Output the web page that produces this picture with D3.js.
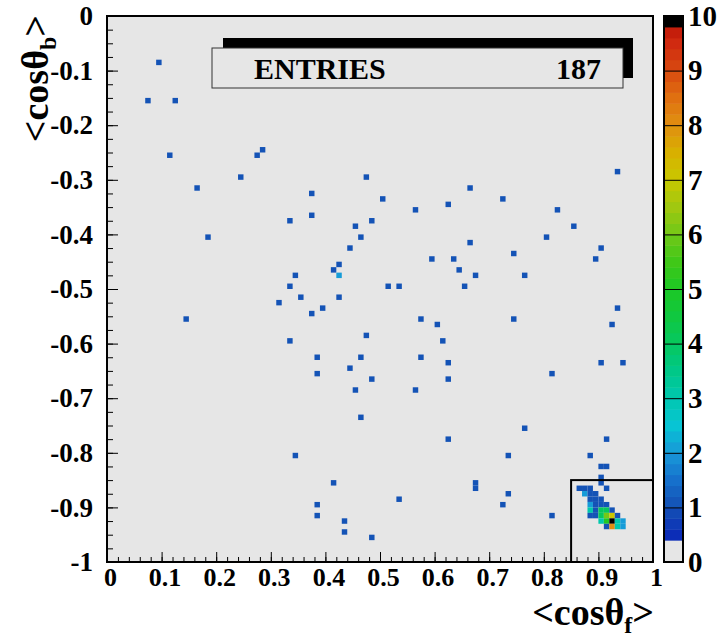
<!DOCTYPE html>
<html><head><meta charset="utf-8">
<script src="https://cdn.jsdelivr.net/npm/d3@7"></script>
<style>body{margin:0;background:#fff}</style>
</head><body>
<svg id="c" width="719" height="641"></svg>
<script>
// ---- data (bin lower edges, 0.01 x 0.01 bins) ----
const binWidth = 0.01;
const binX = [
 0.09,0.07,0.12,0.11,0.27,0.28,0.16,0.24,0.47,0.37,0.93,0.66,0.50,0.72,0.62,0.56,0.82,0.37,0.33,0.48,
 0.45,0.85,0.18,0.46,0.80,0.66,0.44,0.90,0.74,0.59,0.63,0.89,0.42,0.41,0.64,0.42,0.34,0.67,0.76,0.33,
 0.51,0.53,0.65,0.35,0.42,0.31,0.39,0.93,0.37,0.14,0.57,0.74,0.60,0.92,0.47,0.33,0.61,0.38,0.46,0.57,
 0.62,0.90,0.94,0.44,0.38,0.81,0.48,0.62,0.45,0.56,0.46,0.76,0.62,0.91,0.34,0.73,0.88,0.90,0.91,0.90,
 0.90,0.41,0.67,0.67,0.73,0.53,0.38,0.72,0.38,0.81,0.43,0.43,0.48,
 // cluster
 0.86,0.87,0.88,0.91,
 0.87,0.88,0.89,
 0.88,0.89,0.90,
 0.88,0.89,0.90,0.91,
 0.88,0.89,0.90,0.91,0.92,
 0.88,0.89,0.90,0.91,0.92,0.93,
 0.90,0.91,0.92,0.93,0.94,
 0.91,0.92,0.93,0.94
];
const binY = [
 -0.09,-0.16,-0.16,-0.26,-0.26,-0.25,-0.32,-0.30,-0.30,-0.33,-0.29,-0.32,-0.34,-0.34,-0.35,-0.36,-0.36,-0.37,-0.38,-0.38,
 -0.39,-0.39,-0.41,-0.41,-0.41,-0.42,-0.43,-0.43,-0.44,-0.45,-0.45,-0.45,-0.46,-0.47,-0.47,-0.48,-0.48,-0.48,-0.48,-0.50,
 -0.50,-0.50,-0.50,-0.52,-0.52,-0.53,-0.54,-0.54,-0.55,-0.56,-0.56,-0.56,-0.57,-0.57,-0.59,-0.60,-0.60,-0.63,-0.63,-0.63,
 -0.64,-0.64,-0.64,-0.65,-0.66,-0.66,-0.67,-0.67,-0.69,-0.69,-0.74,-0.76,-0.78,-0.78,-0.81,-0.81,-0.81,-0.83,-0.83,-0.85,
 -0.86,-0.86,-0.86,-0.87,-0.88,-0.89,-0.90,-0.90,-0.92,-0.92,-0.93,-0.95,-0.96,
 -0.87,-0.87,-0.87,-0.87,
 -0.88,-0.88,-0.88,
 -0.89,-0.89,-0.89,
 -0.90,-0.90,-0.90,-0.90,
 -0.91,-0.91,-0.91,-0.91,-0.91,
 -0.92,-0.92,-0.92,-0.92,-0.92,-0.92,
 -0.93,-0.93,-0.93,-0.93,-0.93,
 -0.94,-0.94,-0.94,-0.94
];
const binCount = [
 1,1,1,1,1,1,1,1,1,1,1,1,1,1,1,1,1,1,1,1,
 1,1,1,1,1,1,1,1,1,1,1,1,1,1,1,2,1,1,1,1,
 1,1,1,1,1,1,1,1,1,1,1,1,1,1,1,1,1,1,1,1,
 1,1,1,1,1,1,1,1,1,1,1,1,1,1,1,1,1,1,1,1,
 1,1,1,1,1,1,1,1,1,1,1,1,1,
 1,1,1,1,
 2,1,1,
 1,1,1,
 2,1,1,1,
 3,1,4,4,1,
 1,1,4,6,7,1,
 3,5,10,3,2,
 1,8,3,2
];
const xTickValues = [0,0.1,0.2,0.3,0.4,0.5,0.6,0.7,0.8,0.9,1];
const xTickLabels = ["0","0.1","0.2","0.3","0.4","0.5","0.6","0.7","0.8","0.9","1"];
const yTickValues = [0,-0.1,-0.2,-0.3,-0.4,-0.5,-0.6,-0.7,-0.8,-0.9,-1];
const yTickLabels = ["0","-0.1","-0.2","-0.3","-0.4","-0.5","-0.6","-0.7","-0.8","-0.9","-1"];
const zTickValues = [0,1,2,3,4,5,6,7,8,9,10];
const zTickLabels = ["0","1","2","3","4","5","6","7","8","9","10"];
const paletteStops  = [0.35,1.0,1.5,2.0,2.5,3.0,3.5,4.0,4.5,5.0,5.5,6.0,6.5,7.0,7.5,8.0,8.5,9.0,9.5,9.8];
const paletteColors = ["#0a22b8","#1450b4","#1670cc","#1898d8","#08c4d4","#00c8b0","#00c888","#06c860","#10c840","#1cc824","#40c818","#70c818","#a0c810","#c8c800","#d8b000","#e09010","#e07010","#d84a10","#d02a10","#c01808"];
const entriesLabel = "ENTRIES";
const entriesValue = "187";

// ---- layout ----
const svg = d3.select("#c");
const font = "'Liberation Serif','Times New Roman',serif";
const x = d3.scaleLinear().domain([0,1]).range([107,653]);
const y = d3.scaleLinear().domain([-1,0]).range([562,16]);
const z = d3.scaleLinear().domain([0,10]).range([562,16]);
const pal = d3.scaleLinear().domain(paletteStops).range(paletteColors).interpolate(d3.interpolateRgb).clamp(true);
const emptyColor = "#e6e6e6";
function colorOf(v){ if(v>=9.8) return "#000"; if(v<0.35) return emptyColor; return pal(v); }

svg.append("rect").attr("x",x(0)).attr("y",y(0)).attr("width",x(1)-x(0)).attr("height",y(-1)-y(0)).attr("fill",emptyColor);

// bins
const bins = binX.map((bx,i)=>({x:bx,y:binY[i],v:binCount[i]}));
svg.append("g").selectAll("rect").data(bins).join("rect")
  .attr("x",d=>x(d.x)).attr("y",d=>y(d.y+binWidth))
  .attr("width",d=>x(d.x+binWidth)-x(d.x)).attr("height",d=>y(d.y)-y(d.y+binWidth))
  .attr("fill",d=>colorOf(d.v+0.05));

// inner box
svg.append("rect").attr("x",x(0.85)).attr("y",y(-0.85)).attr("width",x(1)-x(0.85)).attr("height",y(-1)-y(-0.85))
  .attr("fill","none").attr("stroke","#000").attr("stroke-width",2);

// stats box
svg.append("rect").attr("x",223).attr("y",38).attr("width",410).attr("height",40).attr("fill","#000");
svg.append("rect").attr("x",212).attr("y",48).attr("width",411).attr("height",40).attr("fill",emptyColor).attr("stroke","#333").attr("stroke-width",1);
svg.append("text").attr("x",254).attr("y",79).attr("font-family",font).attr("font-weight","bold").attr("font-size",30).text(entriesLabel);
svg.append("text").attr("x",601).attr("y",79).attr("text-anchor","end").attr("font-family",font).attr("font-weight","bold").attr("font-size",30).text(entriesValue);

// axes
function styleAxis(g, fs){ g.select(".domain").remove(); g.selectAll("line").attr("stroke","#000").attr("stroke-width",1);
  g.selectAll("text").attr("font-family",font).attr("font-weight","bold").attr("font-size",fs||27).attr("fill","#000"); }
const yMinor = d3.range(0,41).map(i=>-i*0.025);
svg.append("g").attr("transform",`translate(${x(0)},0)`).call(d3.axisLeft(y).tickValues(yMinor).tickSize(-6).tickFormat("")).call(styleAxis);
svg.append("g").attr("transform",`translate(${x(0)},0)`).call(d3.axisLeft(y).tickValues(yTickValues).tickSize(-11).tickPadding(14).tickFormat((d,i)=>yTickLabels[i])).call(styleAxis);
const xMinor = d3.range(0,51).map(i=>i*0.02);
svg.append("g").attr("transform",`translate(0,${y(-1)})`).call(d3.axisBottom(x).tickValues(xMinor).tickSize(-5).tickFormat("")).call(styleAxis);
svg.append("g").attr("transform",`translate(0,${y(-1)})`).call(d3.axisBottom(x).tickValues(xTickValues).tickSize(-10).tickPadding(6).tickFormat((d,i)=>xTickLabels[i])).call(g=>styleAxis(g,26))
  .selectAll("text").attr("dx",3);

// frame
svg.append("rect").attr("x",x(0)).attr("y",y(0)).attr("width",x(1)-x(0)).attr("height",y(-1)-y(0))
  .attr("fill","none").attr("stroke","#000").attr("stroke-width",2);

// colour bar
const cbX = 664, cbW = 19;
const steps = d3.range(0,50).map(i=>i*0.2);
svg.append("g").selectAll("rect").data(steps).join("rect")
  .attr("x",cbX).attr("width",cbW).attr("y",d=>z(d+0.2)).attr("height",d=>z(d)-z(d+0.2)+0.5)
  .attr("fill",d=>colorOf(d+0.1));
svg.append("g").attr("transform",`translate(${cbX+cbW},0)`)
  .call(d3.axisRight(z).tickValues(zTickValues).tickSize(-cbW).tickPadding(5).tickFormat((d,i)=>zTickLabels[i])).call(g=>styleAxis(g,29));
svg.append("rect").attr("x",cbX).attr("y",z(10)).attr("width",cbW).attr("height",z(0)-z(10)).attr("fill","none").attr("stroke","#000").attr("stroke-width",2);

// axis titles
const xt = svg.append("text").attr("x",654).attr("y",625).attr("text-anchor","end").attr("font-family",font).attr("font-weight","bold").attr("font-size",38);
xt.append("tspan").text("<cosθ");
xt.append("tspan").attr("font-size",24).attr("dy",8).text("f");
xt.append("tspan").attr("dy",-8).text(">");
const yt = svg.append("text").attr("transform","translate(48,15) rotate(-90)").attr("text-anchor","end").attr("font-family",font).attr("font-weight","bold").attr("font-size",38);
yt.append("tspan").text("<cosθ");
yt.append("tspan").attr("font-size",24).attr("dy",8).text("b");
yt.append("tspan").attr("dy",-8).text(">");
</script>
</body></html>
